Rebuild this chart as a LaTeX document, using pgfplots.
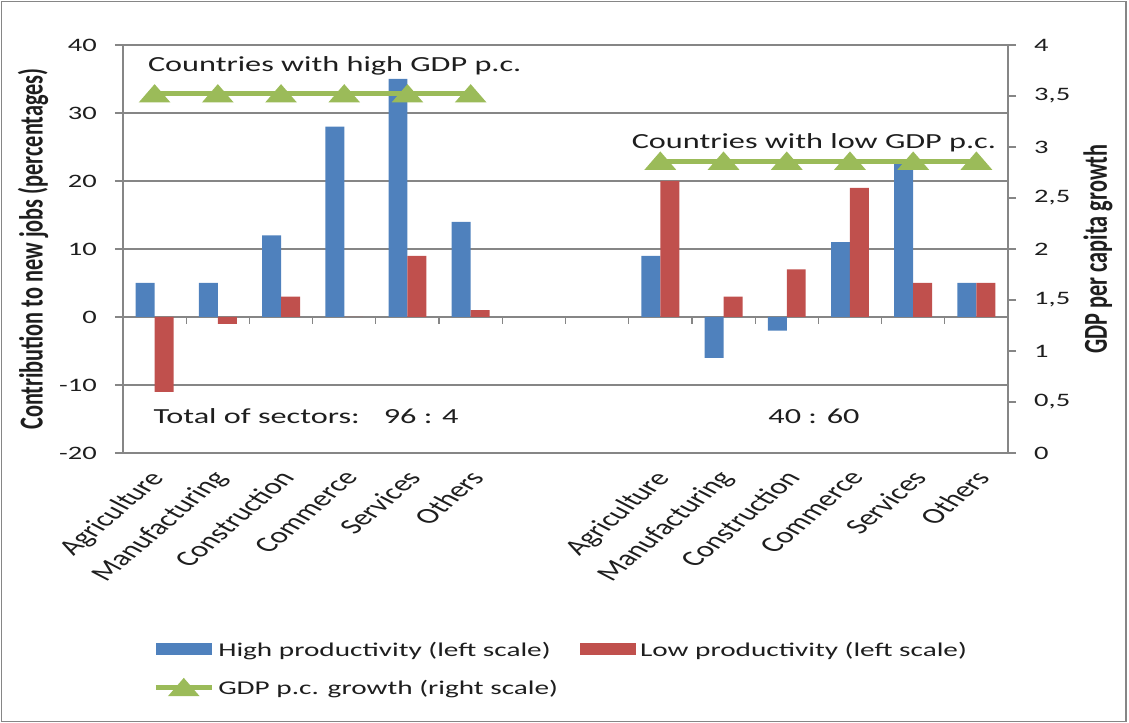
\documentclass[border=0pt]{standalone}
\usepackage{fontspec}
\setmainfont{Carlito}[FakeStretch=1.5]
\newfontfamily\rotfont{Carlito}
\usepackage{graphicx}
\usepackage{pgfplots}
\usepackage{pgfplotstable}
\pgfplotsset{compat=1.18}

\definecolor{hiblue}{RGB}{79,129,189}
\definecolor{lored}{RGB}{192,80,77}
\definecolor{gdpgreen}{RGB}{155,187,89}
\definecolor{axgray}{RGB}{134,134,134}
\definecolor{txt}{RGB}{30,30,30}

% sector names: set on a slant, then widened like the rest of the text
\newcommand{\catlab}[1]{\scalebox{1.5}[1]{\rotatebox{52}{\rotfont\fontsize{22bp}{26bp}\selectfont #1}}}
% vertical axis titles
\newcommand{\sidelab}[1]{\scalebox{1}[1.5]{\rotfont\bfseries\fontsize{22.3bp}{26bp}\selectfont #1}}

% contribution to new jobs (%), high / low productivity sectors
\pgfplotstableread{
x   hi    lo
0   5    -11
1   5    -1
2   12    3
3   28    0
4   35    9
5   14    1
8   9     20
9   -6    3
10  -2    7
11  11    19
12  22.6  5
13  5     5
}\sectors

% GDP per capita growth (right scale)
\pgfplotstableread{
x  g
0  3.52
1  3.52
2  3.52
3  3.52
4  3.52
5  3.52
}\gdphigh
\pgfplotstableread{
x  g
8   2.86
9   2.86
10  2.86
11  2.86
12  2.86
13  2.86
}\gdplow

\pgfplotsset{
  base/.style={
    scale only axis, width=885bp, height=408bp,
    at={(123bp,270bp)}, anchor=south west,
    xmin=-0.5, xmax=13.5,
    /pgf/number format/assume math mode=true,
    axis line style={axgray, line width=1.2bp},
    tick align=outside, major tick length=8bp,
    ytick style={axgray, line width=1.2bp},
    tick label style={font=\fontsize{19bp}{22bp}\selectfont, text=txt},
  },
  swatch/.style={legend image code/.code={\fill[##1] (0bp,-5bp) rectangle (56bp,7bp);}},
  gdpline/.style={gdpgreen, line width=5bp, mark=triangle*, mark size=8bp,
    mark options={xscale=1.5, yshift=-2bp, fill=gdpgreen, draw=none}},
  gdpleg/.style={legend image code/.code={%
    \draw[gdpgreen, line width=5bp] (0bp,0bp) -- (56bp,0bp);
    \path[##1] plot coordinates {(28bp,0bp)};}},
}

\begin{document}
\begin{tikzpicture}
% bars, left scale
\begin{axis}[base,
  ymin=-20, ymax=40, ytick={-20,-10,...,40},
  axis y line*=left, axis x line*=bottom,
  ymajorgrids, grid style={axgray, line width=1.2bp},
  xtick={0,1,2,3,4,5,8,9,10,11,12,13},
  xticklabels={\catlab{Agriculture},\catlab{Manufacturing},\catlab{Construction},\catlab{Commerce},\catlab{Services},\catlab{Others},
               \catlab{Agriculture},\catlab{Manufacturing},\catlab{Construction},\catlab{Commerce},\catlab{Services},\catlab{Others}},
  xtick style={draw=none},
  xticklabel style={anchor=north east, inner sep=0pt, xshift=15bp, yshift=-8bp},
  yticklabel style={anchor=east, inner sep=0pt, xshift=-18bp},
  ylabel={\sidelab{Contribution to new jobs (percentages)}},
  ylabel style={at={(axis description cs:-0.1017,0.5)}, anchor=center, text=txt},
  ybar=0pt, bar width=0.3,
  legend columns=2, legend cell align=left,
  legend style={draw=none, fill=none, inner sep=0pt,
    at={(axis description cs:0.034,-0.458)}, anchor=north west,
    font=\fontsize{19.5bp}{23bp}\selectfont, text=txt, row sep=18bp,
    nodes={inner xsep=2bp, inner ysep=2bp},
    /tikz/every odd column/.append style={column sep=2bp},
    /tikz/every even column/.append style={column sep=20bp}},
]
\addplot[fill=hiblue, draw=none, swatch] table[x=x, y=hi] {\sectors};
\addlegendentry{High productivity (left scale)}
\addplot[fill=lored, draw=none, swatch] table[x=x, y=lo] {\sectors};
\addlegendentry{Low productivity (left scale)}
\addlegendimage{gdpline, gdpleg}
\addlegendentry{GDP p.c. growth (right scale)}

% category boundary ticks on the zero line
\pgfplotsinvokeforeach{0.5,1.5,...,12.5}{
  \draw[axgray, line width=1.2bp] (axis cs:#1,0) -- ([yshift=-7bp]axis cs:#1,0);
}

\node[font=\fontsize{21.5bp}{25bp}\selectfont, text=txt, anchor=base] at (axis cs:2.85,36.1) {Countries with high GDP p.c.};
\node[font=\fontsize{21.5bp}{25bp}\selectfont, text=txt, anchor=base] at (axis cs:10.43,24.8) {Countries with low GDP p.c.};
\node[font=\fontsize{21.5bp}{25bp}\selectfont, text=txt, anchor=base] at (axis cs:2.395,-15.65) {Total of sectors:\hspace{24bp}96 : 4};
\node[font=\fontsize{21.5bp}{25bp}\selectfont, text=txt, anchor=base] at (axis cs:10.43,-15.65) {40 : 60};
\end{axis}

% GDP per capita growth, right scale
\begin{axis}[base,
  ymin=0, ymax=4, ytick={0,0.5,...,4},
  axis y line*=right, axis x line=none,
  yticklabel style={anchor=west, inner sep=0pt, xshift=18bp,
    /pgf/number format/.cd, use comma, fixed, precision=1},
  ylabel={\sidelab{GDP per capita growth}},
  ylabel style={at={(axis description cs:1.1017,0.5)}, anchor=center, text=txt},
]
\addplot[gdpline] table[x=x, y=g] {\gdphigh};
\addplot[gdpline] table[x=x, y=g] {\gdplow};
\end{axis}

\draw[axgray, line width=1.5bp] (1.5bp,1.5bp) rectangle (1126bp,721.5bp);
\pgfresetboundingbox
\path[use as bounding box] (0,0) rectangle (1129bp,723bp);
\end{tikzpicture}
\end{document}
